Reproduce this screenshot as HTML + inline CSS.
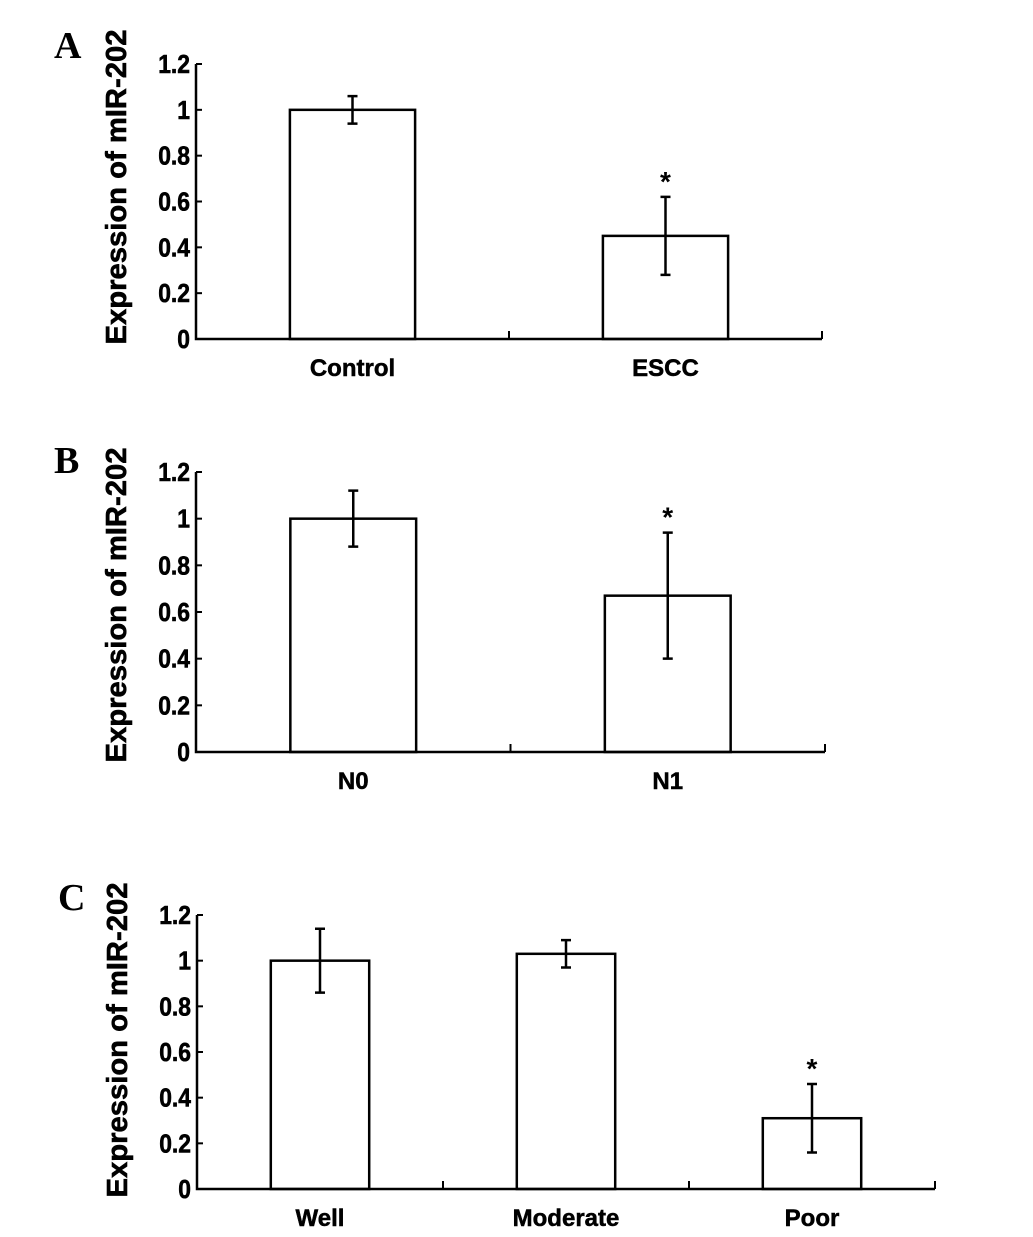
<!DOCTYPE html>
<html><head><meta charset="utf-8"><style>
html,body{margin:0;padding:0;background:#fff;}
svg{display:block;font-family:"Liberation Sans",Arial,sans-serif;}
</style></head><body>
<svg id="fig" width="1033" height="1237" viewBox="0 0 1033 1237"></svg>
<script>
// Panel A data
const catsA = ["Control","ESCC"];
const valsA = [1.0,0.45];
const errA = [0.06,0.17];
const starA = [false,true];
// Panel B data
const catsB = ["N0","N1"];
const valsB = [1.0,0.67];
const errB = [0.12,0.27];
const starB = [false,true];
// Panel C data
const catsC = ["Well","Moderate","Poor"];
const valsC = [1.0,1.03,0.31];
const errC = [0.14,0.06,0.15];
const starC = [false,false,true];
const yTicks = [0,0.2,0.4,0.6,0.8,1,1.2];
const yTickLabels = ["0","0.2","0.4","0.6","0.8","1","1.2"];

const NS="http://www.w3.org/2000/svg";
const svg=document.getElementById('fig');
function mk(tag,attrs,parent){const e=document.createElementNS(NS,tag);for(const k in attrs)e.setAttribute(k,attrs[k]);(parent||svg).appendChild(e);return e;}

function panel(cfg,cats,vals,errs,stars){
  const g=mk('g',{});
  
  
  const x0=cfg.x0,x1=cfg.x1,y0=cfg.y0,yTop=cfg.yTop;
  const ys=v=>y0-(v/1.2)*(y0-yTop);
  const n=cats.length, band=(x1-x0)/n;
  const xc=i=>x0+band*(i+0.5);
  const bw=band*cfg.bwFrac;
  const lt=mk('text',{x:cfg.lx,y:cfg.ly,'font-family':'"Liberation Serif",serif','font-weight':'bold','font-size':38},g);
  lt.textContent=cfg.letter;
  
  
  const yt=mk('text',{x:0,y:0,'font-weight':'bold','font-size':29,'text-anchor':'middle','textLength':315,'lengthAdjust':'spacingAndGlyphs',stroke:'#000','stroke-width':0.6,transform:`translate(${x0-70},${cfg.tc}) rotate(-90)`},g);
  yt.textContent='Expression of mIR-202';
  
  
  for(let i=0;i<n;i++){
    const r=mk('rect',{x:xc(i)-bw/2,y:ys(vals[i]),width:bw,height:y0-ys(vals[i]),fill:'#fff',stroke:'#000','stroke-width':2.5},g);
    
    
    const hi=ys(vals[i]+errs[i]),lo=ys(vals[i]-errs[i]);
    const eb=mk('path',{d:`M${xc(i)} ${hi}V${lo}M${xc(i)-5} ${hi}H${xc(i)+5}M${xc(i)-5} ${lo}H${xc(i)+5}`,stroke:'#000','stroke-width':2.5,fill:'none'},g);
    
    
    if(stars[i]){
      const s=mk('text',{x:xc(i),y:hi-6,'font-size':28,'font-weight':'bold','text-anchor':'middle'},g);
      s.textContent='*';
      
      
    }
    const cl=mk('text',{x:0,y:0,'font-size':24,'font-weight':'bold','text-anchor':'middle',stroke:'#000','stroke-width':0.5,transform:`translate(${xc(i)},${y0+37}) scale(1.0,1)`},g);
    cl.textContent=cats[i];
    
    
  }
  const ax=mk('path',{d:`M${x0} ${yTop}V${y0}H${x1}`,stroke:'#000','stroke-width':2.5,fill:'none'},g);
  
  
  for(let i=1;i<=n;i++){
    const t=mk('line',{x1:x0+band*i,x2:x0+band*i,y1:y0,y2:y0-8,stroke:'#000','stroke-width':2},g);
    
    
  }
  yTicks.forEach((v,k)=>{
    const t=mk('line',{x1:x0,x2:x0+6,y1:ys(v),y2:ys(v),stroke:'#000','stroke-width':2},g);
    
    
    const l=mk('text',{x:0,y:0,'font-size':26,'font-weight':'bold','text-anchor':'end',stroke:'#000','stroke-width':0.6,transform:`translate(${x0-6},${ys(v)+9}) scale(0.88,1)`},g);
    l.textContent=yTickLabels[k];
    
    
  });
}
panel({letter:'A',lx:54,ly:58,x0:196,x1:822,y0:339,yTop:64,bwFrac:0.4,tc:187},catsA,valsA,errA,starA);
panel({letter:'B',lx:54,ly:473,x0:196,x1:825,y0:752,yTop:472,bwFrac:0.4,tc:605},catsB,valsB,errB,starB);
panel({letter:'C',lx:58,ly:910,x0:197,x1:935,y0:1189,yTop:915,bwFrac:0.4,tc:1040},catsC,valsC,errC,starC);
</script>
</body></html>
